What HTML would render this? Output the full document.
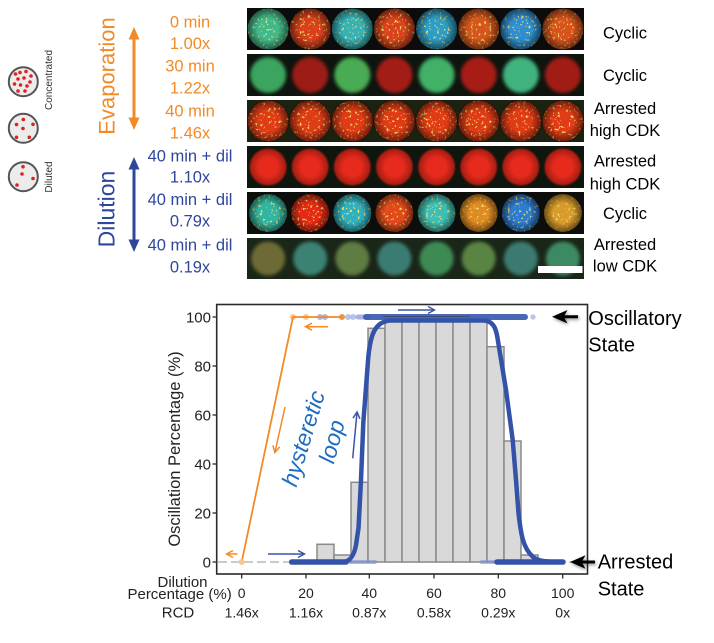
<!DOCTYPE html>
<html><head><meta charset="utf-8"><style>
html,body{margin:0;padding:0;background:#fff;}
svg{display:block;}
</style></head><body>
<svg width="714" height="643" viewBox="0 0 714 643" xmlns="http://www.w3.org/2000/svg" font-family="'Liberation Sans', Arial, sans-serif">
<defs>
  <radialGradient id="vig"><stop offset="0.5" stop-color="#000" stop-opacity="0"/><stop offset="1" stop-color="#000" stop-opacity="0.55"/></radialGradient>
  <filter id="blur2" x="-10%" y="-10%" width="120%" height="120%"><feGaussianBlur stdDeviation="1.8"/></filter>
  <filter id="blur1" x="-10%" y="-10%" width="120%" height="120%"><feGaussianBlur stdDeviation="0.8"/></filter>
  <filter id="speck" x="0" y="0" width="100%" height="100%">
    <feTurbulence type="fractalNoise" baseFrequency="0.38" numOctaves="2" seed="5" result="n"/>
    <feColorMatrix in="n" type="matrix" values="0 0 0 0 0.88  0 0 0 0 0.78  0 0 0 0 0.16  0 0 0 9 -5.7" result="y"/>
    <feComposite in="y" in2="SourceGraphic" operator="in" result="ys"/>
    <feMerge><feMergeNode in="SourceGraphic"/><feMergeNode in="ys"/></feMerge>
  </filter>
  <filter id="shadow" x="-30%" y="-60%" width="160%" height="220%"><feGaussianBlur in="SourceAlpha" stdDeviation="1.5" result="b"/><feOffset dx="1" dy="1.5" result="o"/><feFlood flood-color="#000" flood-opacity="0.45"/><feComposite in2="o" operator="in" result="s"/><feMerge><feMergeNode in="s"/><feMergeNode in="SourceGraphic"/></feMerge></filter>
  <clipPath id="c1"><rect x="247" y="8" width="337" height="42"/></clipPath>
  <clipPath id="c2"><rect x="247" y="54" width="337" height="42"/></clipPath>
  <clipPath id="c3"><rect x="247" y="100" width="337" height="42"/></clipPath>
  <clipPath id="c4"><rect x="247" y="146" width="337" height="42"/></clipPath>
  <clipPath id="c5"><rect x="247" y="192" width="337" height="42"/></clipPath>
  <clipPath id="c6"><rect x="247" y="238" width="337" height="41"/></clipPath>
  <marker id="ao" markerWidth="9" markerHeight="9" refX="7" refY="4.5" orient="auto" markerUnits="userSpaceOnUse"><path d="M1,1 L7.5,4.5 L1,8" fill="none" stroke="#f28a26" stroke-width="1.5"/></marker>
  <marker id="ab" markerWidth="9" markerHeight="9" refX="7" refY="4.5" orient="auto" markerUnits="userSpaceOnUse"><path d="M1,1 L7.5,4.5 L1,8" fill="none" stroke="#3a55a8" stroke-width="1.5"/></marker>
</defs>

<!-- Left icons -->
<g stroke="#555" stroke-width="2" fill="#ececec">
  <circle cx="23.3" cy="81.7" r="14.5"/>
  <circle cx="23.3" cy="128.3" r="14.5"/>
  <circle cx="23.3" cy="176.7" r="14.5"/>
</g>
<g fill="#e02020">
  <circle cx="15.5" cy="74" r="1.8"/><circle cx="20" cy="72.5" r="1.8"/><circle cx="26" cy="71.5" r="1.8"/><circle cx="31" cy="76" r="1.8"/>
  <circle cx="18" cy="79" r="1.8"/><circle cx="24" cy="78" r="1.8"/><circle cx="30" cy="82" r="1.8"/><circle cx="14.5" cy="84" r="1.8"/>
  <circle cx="20.5" cy="85" r="1.8"/><circle cx="27" cy="86" r="1.8"/><circle cx="18" cy="91" r="1.8"/><circle cx="25" cy="91" r="1.8"/>
  <circle cx="23.3" cy="119.5" r="1.8"/><circle cx="16.5" cy="124.5" r="1.8"/><circle cx="23" cy="128.5" r="1.8"/><circle cx="33" cy="124.3" r="1.8"/>
  <circle cx="16.5" cy="137.3" r="1.8"/><circle cx="29.3" cy="137.3" r="1.8"/>
  <circle cx="23" cy="166.7" r="1.8"/><circle cx="22" cy="174" r="1.8"/><circle cx="33" cy="178.5" r="1.8"/><circle cx="17" cy="185" r="1.8"/>
</g>
<text transform="translate(52,80) rotate(-90)" text-anchor="middle" font-size="10" fill="#333">Concentrated</text>
<text transform="translate(52,177) rotate(-90)" text-anchor="middle" font-size="10" fill="#333">Diluted</text>

<!-- Evaporation / Dilution -->
<text transform="translate(114.5,76) rotate(-90)" text-anchor="middle" font-size="22" fill="#f28a26">Evaporation</text>
<text transform="translate(114.5,209) rotate(-90)" text-anchor="middle" font-size="23" fill="#2e479c">Dilution</text>
<line x1="134" y1="37" x2="134" y2="120" stroke="#f28a26" stroke-width="3"/>
<polygon points="134,27 128.5,39.5 139.5,39.5" fill="#f28a26"/>
<polygon points="134,130 128.5,117.5 139.5,117.5" fill="#f28a26"/>
<line x1="134" y1="167" x2="134" y2="242" stroke="#2e479c" stroke-width="3"/>
<polygon points="134,157 128.5,169.5 139.5,169.5" fill="#2e479c"/>
<polygon points="134,252 128.5,239.5 139.5,239.5" fill="#2e479c"/>

<g font-size="16.5" text-anchor="middle">
  <g fill="#f28a26">
    <text x="190" y="27.3">0 min</text>
    <text x="190" y="49">1.00x</text>
    <text x="190" y="71.7">30 min</text>
    <text x="190" y="93.3">1.22x</text>
    <text x="190" y="116.7">40 min</text>
    <text x="190" y="138.3">1.46x</text>
  </g>
  <g fill="#2e479c">
    <text x="190" y="161.7">40 min + dil</text>
    <text x="190" y="182.7">1.10x</text>
    <text x="190" y="205">40 min + dil</text>
    <text x="190" y="226.7">0.79x</text>
    <text x="190" y="250.7">40 min + dil</text>
    <text x="190" y="272.7">0.19x</text>
  </g>
</g>

<!-- Image strips -->
<!-- Row 1 -->
<g clip-path="url(#c1)">
  <rect x="247" y="8" width="337" height="42" fill="#0c0c0c"/>
  <g filter="url(#speck)">
    <circle cx="268.1" cy="29" r="20.5" fill="#3fb98c"/>
    <circle cx="310.2" cy="29" r="20.5" fill="#d8401c"/>
    <circle cx="352.3" cy="29" r="20.5" fill="#35b2b5"/>
    <circle cx="394.4" cy="29" r="20.5" fill="#d9421d"/>
    <circle cx="436.6" cy="29" r="20.5" fill="#2d9dc4"/>
    <circle cx="478.7" cy="29" r="20.5" fill="#d4561f"/>
    <circle cx="520.8" cy="29" r="20.5" fill="#2f8fcf"/>
    <circle cx="562.9" cy="29" r="20.5" fill="#d6521e"/>
  </g>
  <g fill="url(#vig)">
    <circle cx="268.1" cy="29" r="21"/><circle cx="310.2" cy="29" r="21"/><circle cx="352.3" cy="29" r="21"/><circle cx="394.4" cy="29" r="21"/>
    <circle cx="436.6" cy="29" r="21"/><circle cx="478.7" cy="29" r="21"/><circle cx="520.8" cy="29" r="21"/><circle cx="562.9" cy="29" r="21"/>
  </g>
</g>
<!-- Row 2 -->
<g clip-path="url(#c2)">
  <rect x="247" y="54" width="337" height="42" fill="#0e140e"/>
  <g filter="url(#blur2)">
    <circle cx="268.1" cy="75" r="18" fill="#3aa55e"/>
    <circle cx="310.2" cy="75" r="18" fill="#9c1c12"/>
    <circle cx="352.3" cy="75" r="18" fill="#49ab52"/>
    <circle cx="394.4" cy="75" r="18" fill="#a41e12"/>
    <circle cx="436.6" cy="75" r="18" fill="#41b166"/>
    <circle cx="478.7" cy="75" r="18" fill="#a81e14"/>
    <circle cx="520.8" cy="75" r="18" fill="#3fb37e"/>
    <circle cx="562.9" cy="75" r="18" fill="#a21c12"/>
  </g>
</g>
<!-- Row 3 -->
<g clip-path="url(#c3)">
  <rect x="247" y="100" width="337" height="42" fill="#1c2210"/>
  <g filter="url(#speck)">
    <circle cx="268.1" cy="121" r="20.5" fill="#df3a18"/>
    <circle cx="310.2" cy="121" r="20.5" fill="#df3a18"/>
    <circle cx="352.3" cy="121" r="20.5" fill="#df3a18"/>
    <circle cx="394.4" cy="121" r="20.5" fill="#df3a18"/>
    <circle cx="436.6" cy="121" r="20.5" fill="#df3a18"/>
    <circle cx="478.7" cy="121" r="20.5" fill="#df3a18"/>
    <circle cx="520.8" cy="121" r="20.5" fill="#df3a18"/>
    <circle cx="562.9" cy="121" r="20.5" fill="#df3a18"/>
  </g>
  <g fill="url(#vig)">
    <circle cx="268.1" cy="121" r="21"/><circle cx="310.2" cy="121" r="21"/><circle cx="352.3" cy="121" r="21"/><circle cx="394.4" cy="121" r="21"/>
    <circle cx="436.6" cy="121" r="21"/><circle cx="478.7" cy="121" r="21"/><circle cx="520.8" cy="121" r="21"/><circle cx="562.9" cy="121" r="21"/>
  </g>
</g>
<!-- Row 4 -->
<g clip-path="url(#c4)">
  <rect x="247" y="146" width="337" height="42" fill="#0e160e"/>
  <g filter="url(#blur1)">
    <circle cx="268.1" cy="167" r="18.5" fill="#e62c1a"/>
    <circle cx="310.2" cy="167" r="18.5" fill="#e62c1a"/>
    <circle cx="352.3" cy="167" r="18.5" fill="#e62c1a"/>
    <circle cx="394.4" cy="167" r="18.5" fill="#e62c1a"/>
    <circle cx="436.6" cy="167" r="18.5" fill="#e62c1a"/>
    <circle cx="478.7" cy="167" r="18.5" fill="#e62c1a"/>
    <circle cx="520.8" cy="167" r="18.5" fill="#e62c1a"/>
    <circle cx="562.9" cy="167" r="18.5" fill="#e62c1a"/>
  </g>
  <g fill="url(#vig)" opacity="0.6">
    <circle cx="268.1" cy="167" r="19"/><circle cx="310.2" cy="167" r="19"/><circle cx="352.3" cy="167" r="19"/><circle cx="394.4" cy="167" r="19"/>
    <circle cx="436.6" cy="167" r="19"/><circle cx="478.7" cy="167" r="19"/><circle cx="520.8" cy="167" r="19"/><circle cx="562.9" cy="167" r="19"/>
  </g>
</g>
<!-- Row 5 -->
<g clip-path="url(#c5)">
  <rect x="247" y="192" width="337" height="42" fill="#0c0e0c"/>
  <g filter="url(#speck)">
    <circle cx="268.1" cy="213" r="19" fill="#33b5a0"/>
    <circle cx="310.2" cy="213" r="19" fill="#e32a18"/>
    <circle cx="352.3" cy="213" r="19" fill="#2fb2c0"/>
    <circle cx="394.4" cy="213" r="19" fill="#e04a1a"/>
    <circle cx="436.6" cy="213" r="19" fill="#3abfb5"/>
    <circle cx="478.7" cy="213" r="19" fill="#e08a22"/>
    <circle cx="520.8" cy="213" r="19" fill="#2f7bd0"/>
    <circle cx="562.9" cy="213" r="19" fill="#d89a2c"/>
  </g>
  <g fill="url(#vig)">
    <circle cx="268.1" cy="213" r="19.5"/><circle cx="310.2" cy="213" r="19.5"/><circle cx="352.3" cy="213" r="19.5"/><circle cx="394.4" cy="213" r="19.5"/>
    <circle cx="436.6" cy="213" r="19.5"/><circle cx="478.7" cy="213" r="19.5"/><circle cx="520.8" cy="213" r="19.5"/><circle cx="562.9" cy="213" r="19.5"/>
  </g>
</g>
<!-- Row 6 -->
<g clip-path="url(#c6)">
  <rect x="247" y="238" width="337" height="41" fill="#1a2618"/>
  <g filter="url(#blur2)">
    <circle cx="268.1" cy="258.5" r="17" fill="#6d6a34"/>
    <circle cx="310.2" cy="258.5" r="17" fill="#3a8272"/>
    <circle cx="352.3" cy="258.5" r="17" fill="#5f7c42"/>
    <circle cx="394.4" cy="258.5" r="17" fill="#3b7c72"/>
    <circle cx="436.6" cy="258.5" r="17" fill="#3d8a54"/>
    <circle cx="478.7" cy="258.5" r="17" fill="#5a8442"/>
    <circle cx="520.8" cy="258.5" r="17" fill="#3b7a70"/>
    <circle cx="562.9" cy="258.5" r="17" fill="#3e8a62"/>
  </g>
  <rect x="538" y="266" width="44.5" height="7" fill="#fff"/>
</g>

<!-- Right labels -->
<g font-size="16.5" text-anchor="middle" fill="#000">
  <text x="625" y="38.3">Cyclic</text>
  <text x="625" y="81">Cyclic</text>
  <text x="625" y="114">Arrested</text>
  <text x="625" y="136">high CDK</text>
  <text x="625" y="166.7">Arrested</text>
  <text x="625" y="189.3">high CDK</text>
  <text x="625" y="219">Cyclic</text>
  <text x="625" y="250">Arrested</text>
  <text x="625" y="271.7">low CDK</text>
</g>

<!-- ===== Plot ===== -->
<line x1="218" y1="562" x2="586" y2="562" stroke="#aaa" stroke-width="1.2" stroke-dasharray="9,4"/>
<g fill="#d9d9d9" stroke="#8a8a8a" stroke-width="1.5">
  <rect x="317" y="544.3" width="17" height="17.7"/>
  <rect x="334" y="555" width="17" height="7"/>
  <rect x="351" y="482.3" width="17" height="79.7"/>
  <rect x="368" y="328.3" width="17" height="233.7"/>
  <rect x="385" y="320" width="17" height="242"/>
  <rect x="402" y="320" width="17" height="242"/>
  <rect x="419" y="320" width="17" height="242"/>
  <rect x="436" y="320" width="17" height="242"/>
  <rect x="453" y="320" width="17" height="242"/>
  <rect x="470" y="320" width="17" height="242"/>
  <rect x="487" y="346.7" width="17" height="215.3"/>
  <rect x="504" y="441" width="17" height="121"/>
  <rect x="521" y="555" width="17" height="7"/>
</g>

<g>
  <circle cx="293" cy="317" r="3" fill="#f8c890"/>
  <circle cx="306" cy="317" r="3" fill="#f8c890"/>
  <circle cx="320" cy="317" r="3" fill="#8898d0" opacity="0.7"/>
  <circle cx="325" cy="317" r="3" fill="#8898d0" opacity="0.7"/>
  <circle cx="342" cy="317" r="3" fill="#e8944c"/>
  <circle cx="348" cy="317" r="3" fill="#9aa8d8" opacity="0.7"/>
  <circle cx="353" cy="317" r="3" fill="#9aa8d8" opacity="0.7"/>
  <circle cx="533" cy="317" r="2.6" fill="#a8b4e0" opacity="0.8"/>
  <line x1="358" y1="317" x2="368" y2="317" stroke="#7f92d0" stroke-width="5" stroke-linecap="round" opacity="0.7"/>
  <line x1="366" y1="317" x2="525" y2="317" stroke="#3b5ab0" stroke-width="6" stroke-linecap="round" opacity="0.92"/>
  <line x1="383" y1="316.5" x2="470" y2="316.5" stroke="#333" stroke-width="1" opacity="0.5"/>
</g>
<g>
  <line x1="346" y1="562" x2="375" y2="562" stroke="#7f92d0" stroke-width="4" stroke-linecap="round" opacity="0.6"/>
  <line x1="291.7" y1="562" x2="346" y2="562" stroke="#3453a8" stroke-width="5.5" stroke-linecap="round"/>
  <line x1="481.7" y1="562" x2="500" y2="562" stroke="#7f92d0" stroke-width="4" stroke-linecap="round" opacity="0.6"/>
  <line x1="497" y1="562" x2="563" y2="562" stroke="#3453a8" stroke-width="5.5" stroke-linecap="round"/>
</g>

<polyline points="241.7,562 293,317 342,317" fill="none" stroke="#f28a26" stroke-width="1.8"/>
<circle cx="241.7" cy="562" r="3" fill="#f8c890"/>

<path d="M291.7,562 L342,562 C350,562 354,556 356,545 L358.5,528 L361,480 L363.3,423 L368.3,357 C370.5,336 374,322 390,320.5 L484,320.5 C493,321 496,328 497.5,338 L506,390 L512.7,440 L516,480 L518.5,513 C521,535 523,548 533,557 C538,561 545,562 563,562" fill="none" stroke="#3453a8" stroke-width="4.5" stroke-linecap="round" stroke-linejoin="round"/>

<line x1="328" y1="326.7" x2="306" y2="326.7" stroke="#f28a26" stroke-width="1.5" marker-end="url(#ao)"/>
<line x1="285" y1="407" x2="275" y2="452" stroke="#f28a26" stroke-width="1.5" marker-end="url(#ao)"/>
<line x1="237.5" y1="554" x2="227" y2="554" stroke="#f28a26" stroke-width="1.5" marker-end="url(#ao)"/>
<line x1="268" y1="554" x2="304" y2="554" stroke="#3a55a8" stroke-width="1.5" marker-end="url(#ab)"/>
<line x1="398" y1="310" x2="434" y2="310" stroke="#3a55a8" stroke-width="1.5" marker-end="url(#ab)"/>
<line x1="352.7" y1="458.3" x2="357" y2="412.5" stroke="#3a55a8" stroke-width="1.5" marker-end="url(#ab)"/>

<text transform="translate(305,439) rotate(-73)" text-anchor="middle" dominant-baseline="middle" font-style="italic" font-size="23" fill="#1f6dbf">hysteretic</text>
<text transform="translate(333.5,442) rotate(-75)" text-anchor="middle" dominant-baseline="middle" font-style="italic" font-size="23" fill="#1f6dbf">loop</text>

<rect x="216.7" y="304.5" width="370.8" height="269.5" fill="none" stroke="#2a2a2a" stroke-width="1.6"/>

<g stroke="#2a2a2a" stroke-width="1.3">
  <line x1="212.5" y1="317" x2="216.7" y2="317"/>
  <line x1="212.5" y1="366" x2="216.7" y2="366"/>
  <line x1="212.5" y1="415" x2="216.7" y2="415"/>
  <line x1="212.5" y1="464" x2="216.7" y2="464"/>
  <line x1="212.5" y1="513" x2="216.7" y2="513"/>
  <line x1="212.5" y1="562" x2="216.7" y2="562"/>
  <line x1="241.7" y1="574" x2="241.7" y2="578.5"/>
  <line x1="306" y1="574" x2="306" y2="578.5"/>
  <line x1="369.3" y1="574" x2="369.3" y2="578.5"/>
  <line x1="434" y1="574" x2="434" y2="578.5"/>
  <line x1="498.3" y1="574" x2="498.3" y2="578.5"/>
  <line x1="562.7" y1="574" x2="562.7" y2="578.5"/>
</g>
<g font-size="15" fill="#222" text-anchor="end">
  <text x="211" y="322.3">100</text>
  <text x="211" y="371.3">80</text>
  <text x="211" y="420.3">60</text>
  <text x="211" y="469.3">40</text>
  <text x="211" y="518.3">20</text>
  <text x="211" y="567.3">0</text>
</g>
<text transform="translate(180,449) rotate(-90)" text-anchor="middle" font-size="16.5" fill="#222">Oscillation Percentage (%)</text>

<g font-size="14" fill="#222" text-anchor="middle">
  <text x="241.7" y="598">0</text>
  <text x="306" y="598">20</text>
  <text x="369.3" y="598">40</text>
  <text x="434" y="598">60</text>
  <text x="498.3" y="598">80</text>
  <text x="562.7" y="598">100</text>
  <text x="241.7" y="617.7">1.46x</text>
  <text x="306" y="617.7">1.16x</text>
  <text x="369.3" y="617.7">0.87x</text>
  <text x="434" y="617.7">0.58x</text>
  <text x="498.3" y="617.7">0.29x</text>
  <text x="562.7" y="617.7">0x</text>
</g>
<g font-size="15" fill="#222">
  <text x="182.5" y="587" text-anchor="middle">Dilution</text>
  <text x="231.7" y="599" text-anchor="end">Percentage (%)</text>
  <text x="178" y="617.7" text-anchor="middle">RCD</text>
</g>

<g filter="url(#shadow)" fill="#000">
  <polygon points="552,316.7 567.5,310 564.5,315.2 578,315.2 578,318.2 564.5,318.2 567.5,323.4"/>
  <polygon points="570,562 585.5,555.3 582.5,560.5 595,560.5 595,563.5 582.5,563.5 585.5,568.7"/>
</g>
<g font-size="20" fill="#000">
  <text x="588.3" y="325">Oscillatory</text>
  <text x="588.3" y="351.7">State</text>
  <text x="597.7" y="568.3">Arrested</text>
  <text x="597.7" y="595.7">State</text>
</g>
</svg>
</body></html>
